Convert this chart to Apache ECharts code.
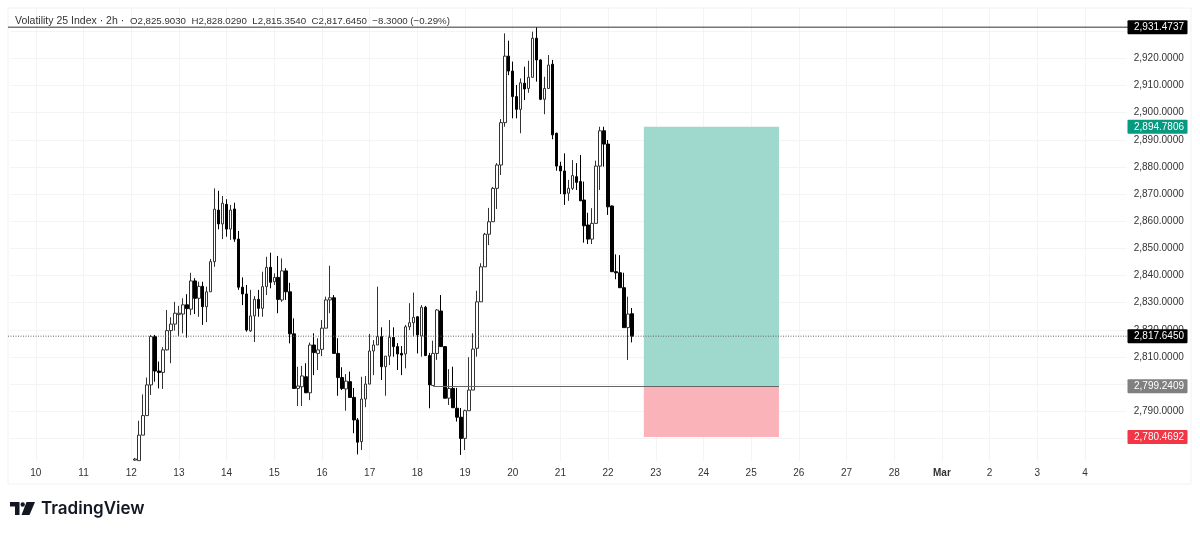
<!DOCTYPE html>
<html>
<head>
<meta charset="utf-8">
<style>html,body{margin:0;padding:0;background:#fff}#main{width:1200px;height:534px}</style>
<script src="https://cdn.jsdelivr.net/npm/echarts@6/dist/echarts.min.js"></script>
</head>
<body>
<div id="main"></div>
<script>
// 2h candles, first one sits one bar after the "12" tick
var opens = [2772.0,2771.8,2781.2,2788.4,2799.7,2817.5,2804.8,2804.3,2812.6,2819.7,2822.1,2825.6,2825.8,2829.2,2827.6,2838.0,2831.6,2836.0,2828.5,2834.0,
  2845.1,2864.1,2859.0,2866.2,2857.1,2864.5,2853.4,2835.7,2833.2,2819.6,2825.1,2831.2,2827.9,2835.9,2843.0,2837.7,2839.3,2831.0,2841.7,2834.0,
  2818.5,2798.4,2799.0,2802.7,2796.8,2814.4,2811.3,2812.8,2820.6,2831.0,2831.8,2811.3,2802.4,2798.2,2800.9,2795.1,2786.8,2778.8,2794.5,2800.0,
  2812.2,2814.4,2817.5,2806.4,2810.3,2817.2,2813.8,2811.3,2811.1,2821.1,2822.6,2824.8,2817.7,2828.3,2810.5,2799.5,2811.3,2826.9,2813.8,2794.8,
  2798.4,2791.1,2787.8,2780.0,2790.2,2797.8,2813.2,2830.3,2843.2,2855.2,2859.8,2872.1,2880.7,2896.3,2920.8,2915.3,2905.9,2901.2,2910.8,2908.9,
  2913.0,2927.4,2919.4,2904.9,2908.9,2917.8,2892.4,2880.3,2878.5,2870.3,2872.1,2876.4,2874.6,2867.8,2858.6,2853.4,2859.2,2880.3,2893.3,2888.4,
  2865.6,2841.4,2841.0,2835.5,2820.8,2825.903];
var closes = [2772.4,2781.2,2788.4,2799.7,2817.5,2804.8,2804.3,2812.6,2819.7,2822.1,2826.1,2826.1,2829.2,2827.8,2838.0,2831.6,2836.0,2828.5,2834.0,2845.1,
  2864.4,2859.0,2866.6,2857.1,2864.1,2853.4,2835.7,2833.2,2819.9,2825.1,2831.2,2827.9,2835.9,2843.0,2837.5,2839.3,2831.2,2841.7,2834.0,2818.5,
  2798.4,2799.3,2803.0,2796.8,2814.4,2811.6,2812.6,2820.6,2831.0,2831.8,2811.3,2802.4,2798.4,2801.1,2795.1,2786.8,2778.6,2794.5,2800.0,2812.2,
  2814.4,2817.5,2806.4,2810.3,2817.2,2813.8,2811.1,2810.7,2821.1,2822.6,2824.6,2818.1,2828.3,2810.5,2799.7,2811.3,2827.3,2813.8,2794.8,2798.4,
  2791.3,2787.8,2780.0,2790.2,2797.8,2812.9,2830.3,2843.2,2855.2,2859.8,2872.1,2880.7,2896.3,2920.8,2915.3,2905.9,2901.2,2911.0,2908.7,2913.0,
  2927.4,2919.4,2904.9,2908.9,2917.5,2891.8,2880.3,2878.5,2870.0,2872.1,2876.8,2874.3,2867.5,2858.3,2853.4,2859.2,2880.3,2893.3,2888.4,2865.3,
  2841.4,2841.0,2835.5,2820.8,2825.8,2817.645];
var lows = [2771.7,2771.8,2781.2,2788.4,2796.0,2800.9,2798.4,2798.2,2812.4,2807.7,2819.7,2817.7,2818.7,2817.1,2825.4,2825.8,2824.8,2821.8,2822.8,2834.0,
  2843.2,2857.0,2853.4,2854.3,2853.1,2852.4,2834.7,2829.1,2819.3,2819.2,2815.5,2824.8,2824.8,2832.8,2835.3,2836.5,2826.1,2830.3,2831.0,2815.0,
  2798.4,2791.9,2791.9,2796.7,2794.1,2803.3,2805.2,2810.3,2820.6,2826.1,2811.3,2795.7,2797.8,2790.2,2795.1,2781.9,2774.1,2775.7,2791.5,2800.0,
  2803.3,2814.4,2801.5,2795.7,2807.0,2810.1,2805.2,2803.3,2805.8,2819.9,2817.5,2811.3,2810.1,2810.5,2791.1,2799.5,2808.9,2813.8,2794.8,2792.3,
  2791.3,2786.2,2773.9,2775.7,2790.2,2797.8,2810.1,2830.3,2843.2,2851.2,2859.8,2864.5,2877.0,2894.8,2913.8,2897.9,2897.9,2892.4,2904.6,2907.3,
  2913.0,2911.4,2904.6,2899.4,2908.9,2890.2,2878.6,2870.0,2866.0,2867.5,2871.5,2871.5,2867.5,2852.1,2851.6,2851.6,2859.2,2871.5,2880.1,2862.3,
  2841.4,2838.6,2835.5,2820.8,2808.9,2815.354];
var highs = [2772.8,2786.5,2796.2,2802.4,2818.1,2818.1,2808.3,2813.6,2827.3,2824.6,2830.3,2828.8,2831.6,2833.1,2841.0,2839.0,2837.7,2837.7,2835.9,2846.1,
  2872.1,2871.2,2869.3,2868.1,2866.0,2866.8,2856.4,2839.3,2836.5,2834.7,2832.4,2834.7,2841.4,2846.9,2848.4,2840.8,2847.2,2846.3,2842.7,2837.3,
  2824.2,2806.4,2806.7,2807.7,2815.3,2818.7,2816.9,2823.6,2832.2,2843.6,2832.8,2816.9,2806.2,2803.7,2804.6,2798.6,2787.5,2802.7,2803.0,2818.5,
  2816.2,2835.9,2820.9,2810.3,2823.6,2820.9,2815.1,2814.0,2821.8,2829.8,2833.7,2825.0,2829.1,2828.8,2811.5,2816.0,2827.6,2832.8,2814.0,2805.5,
  2806.4,2798.6,2791.2,2790.6,2809.9,2818.7,2834.4,2844.5,2855.7,2864.9,2872.6,2881.4,2897.6,2929.2,2926.5,2918.8,2910.2,2912.6,2916.9,2919.1,
  2929.8,2931.47,2919.6,2913.2,2921.2,2919.4,2892.6,2881.9,2885.0,2875.2,2882.5,2881.4,2884.4,2874.6,2863.1,2864.8,2882.3,2894.8,2894.8,2889.9,
  2865.8,2847.8,2847.5,2841.0,2832.2,2828.029];

var dayLabels = ['10','11','12','13','14','15','16','17','18','19','20','21','22','23','24','25','26','27','28','Mar','2','3','4'];
var gridTicks = [2780,2790,2800,2810,2820,2830,2840,2850,2860,2870,2880,2890,2900,2910,2920,2930];
var priceLabels = [2790,2810,2820,2830,2840,2850,2860,2870,2880,2890,2900,2910,2920];

var targetPrice = 2894.7806, entryPrice = 2799.2409, stopPrice = 2780.4692;
var highPrice = 2931.4737, lastPrice = 2817.6450;

var priceTags = [
  {value: highPrice, color: '#000000'},
  {value: targetPrice, color: '#089981'},
  {value: lastPrice, color: '#000000'},
  {value: entryPrice, color: '#808080'},
  {value: stopPrice, color: '#f23645'}
];
var headerName = 'Volatility 25 Index \u00b7 2h \u00b7  ';
var headerValues = 'O2,825.9030  H2,828.0290  L2,815.3540  C2,817.6450  \u22128.3000 (\u22120.29%)';

var BAR_COUNT = 281, DAY_START = 6, BARS_PER_DAY = 12, FIRST_BAR = 31;
var LABEL_FONT = '"Liberation Sans", sans-serif';

var categories = [];
for (var i = 0; i < BAR_COUNT; i++) categories.push('');
dayLabels.forEach(function (d, i) { categories[DAY_START + i * BARS_PER_DAY] = d; });

// one row per category, empty before the first bar and after the last
var candles = categories.map(function (c, i) {
  var k = i - FIRST_BAR;
  if (k < 0 || k >= opens.length) return ['-', '-', '-', '-'];
  return [opens[k], closes[k], lows[k], highs[k]];
});

function fmt(v) {
  return v.toLocaleString('en-US', {minimumFractionDigits: 4, maximumFractionDigits: 4});
}

// tag boxes on the price scale, with the guide line for high / last price
function renderTag(params, api) {
  var tag = priceTags[params.dataIndex];
  var y = api.coord([0, api.value(0)])[1];
  var kids = [];
  if (tag.value === highPrice || tag.value === lastPrice) {
    kids.push({
      type: 'line',
      shape: {x1: 8, y1: y, x2: 1128, y2: y},
      style: tag.value === highPrice
        ? {stroke: '#333', lineWidth: 1}
        : {stroke: '#666', lineWidth: 1, lineDash: [1, 1.5]}
    });
  }
  kids.push({type: 'rect', shape: {x: 1127.5, y: y - 7, width: 60, height: 14, r: 1}, style: {fill: tag.color}});
  kids.push({
    type: 'text',
    style: {
      x: 1159, y: y, text: fmt(tag.value), fill: '#fff',
      font: '10px ' + LABEL_FONT, textAlign: 'center', textVerticalAlign: 'middle'
    }
  });
  return {type: 'group', children: kids};
}

var chart = echarts.init(document.getElementById('main'));
chart.setOption({
  animation: false,
  backgroundColor: '#fff',
  grid: {left: 10, right: 73.3, top: 8, bottom: 73},
  xAxis: {
    type: 'category',
    data: categories,
    boundaryGap: true,
    axisLine: {show: false},
    axisTick: {show: false},
    axisLabel: {
      interval: function (i, v) { return v !== ''; },
      color: '#333', fontSize: 10, margin: 7, fontFamily: LABEL_FONT,
      formatter: function (v) { return v === 'Mar' ? '{b|Mar}' : v; },
      rich: {b: {fontWeight: 'bold', fontSize: 10, color: '#333', fontFamily: LABEL_FONT}}
    },
    splitLine: {
      show: true,
      alignWithLabel: true,
      interval: function (i, v) { return v !== ''; },
      lineStyle: {color: '#f4f4f4', width: 1}
    }
  },
  yAxis: {
    type: 'value',
    position: 'right',
    min: 2771.67,
    max: 2938.53,
    axisLine: {show: false},
    axisTick: {show: false, customValues: gridTicks},
    axisLabel: {
      customValues: priceLabels,
      color: '#333', fontSize: 10, margin: 7, fontFamily: LABEL_FONT,
      padding: [0, 0, 2, 0],
      formatter: function (v) { return fmt(v); }
    },
    splitLine: {show: true, lineStyle: {color: '#f4f4f4', width: 1}}
  },
  title: {
    text: '{a|' + headerName + '}{b|' + headerValues + '}', left: 15, top: 16, padding: 0,
    textStyle: {
      fontWeight: 'normal',
      rich: {
        a: {fontSize: 10.5, fontWeight: 'normal', color: '#333', fontFamily: LABEL_FONT},
        b: {fontSize: 9.7, fontWeight: 'normal', color: '#333', fontFamily: LABEL_FONT}
      }
    }
  },
  graphic: [
    {type: 'rect', z: -1, shape: {x: 8, y: 8, width: 1183, height: 476}, style: {fill: 'none', stroke: '#f2f2f2'}},
    {type: 'polygon', shape: {points: [[10, 502], [19.5, 502], [19.5, 515], [15, 515], [15, 506.5], [10, 506.5]]}, style: {fill: '#131722'}},
    {type: 'circle', shape: {cx: 22.7, cy: 504.5, r: 2.2}, style: {fill: '#131722'}},
    {type: 'polygon', shape: {points: [[26.5, 502], [35, 502], [29.5, 515], [21.5, 515]]}, style: {fill: '#131722'}},
    {
      type: 'text', left: 41, top: 500,
      style: {text: 'TradingView', fill: '#131722', font: '600 17px Inter, Roboto, sans-serif'}
    }
  ],
  series: [
    {
      type: 'candlestick',
      data: candles,
      barWidth: 3,
      itemStyle: {color: '#fff', color0: '#000', borderColor: '#333', borderColor0: '#000', borderWidth: 1},
      markArea: {
        silent: true,
        data: [
          [{xAxis: 159, yAxis: targetPrice, itemStyle: {color: '#9fd8cc'}}, {xAxis: 193, yAxis: entryPrice}],
          [{xAxis: 159, yAxis: entryPrice, itemStyle: {color: '#fbb3ba'}}, {xAxis: 193, yAxis: stopPrice}]
        ]
      },
      markLine: {
        silent: true,
        symbol: 'none',
        label: {show: false},
        lineStyle: {color: '#666', width: 1, type: 'solid'},
        data: [[{xAxis: 106, yAxis: entryPrice}, {xAxis: 193, yAxis: entryPrice}]]
      }
    },
    {
      type: 'custom',
      silent: true,
      z: 5,
      clip: false,
      data: priceTags.map(function (t) { return [t.value]; }),
      encode: {y: 0},
      renderItem: renderTag
    }
  ]
});
</script>
</body>
</html>
